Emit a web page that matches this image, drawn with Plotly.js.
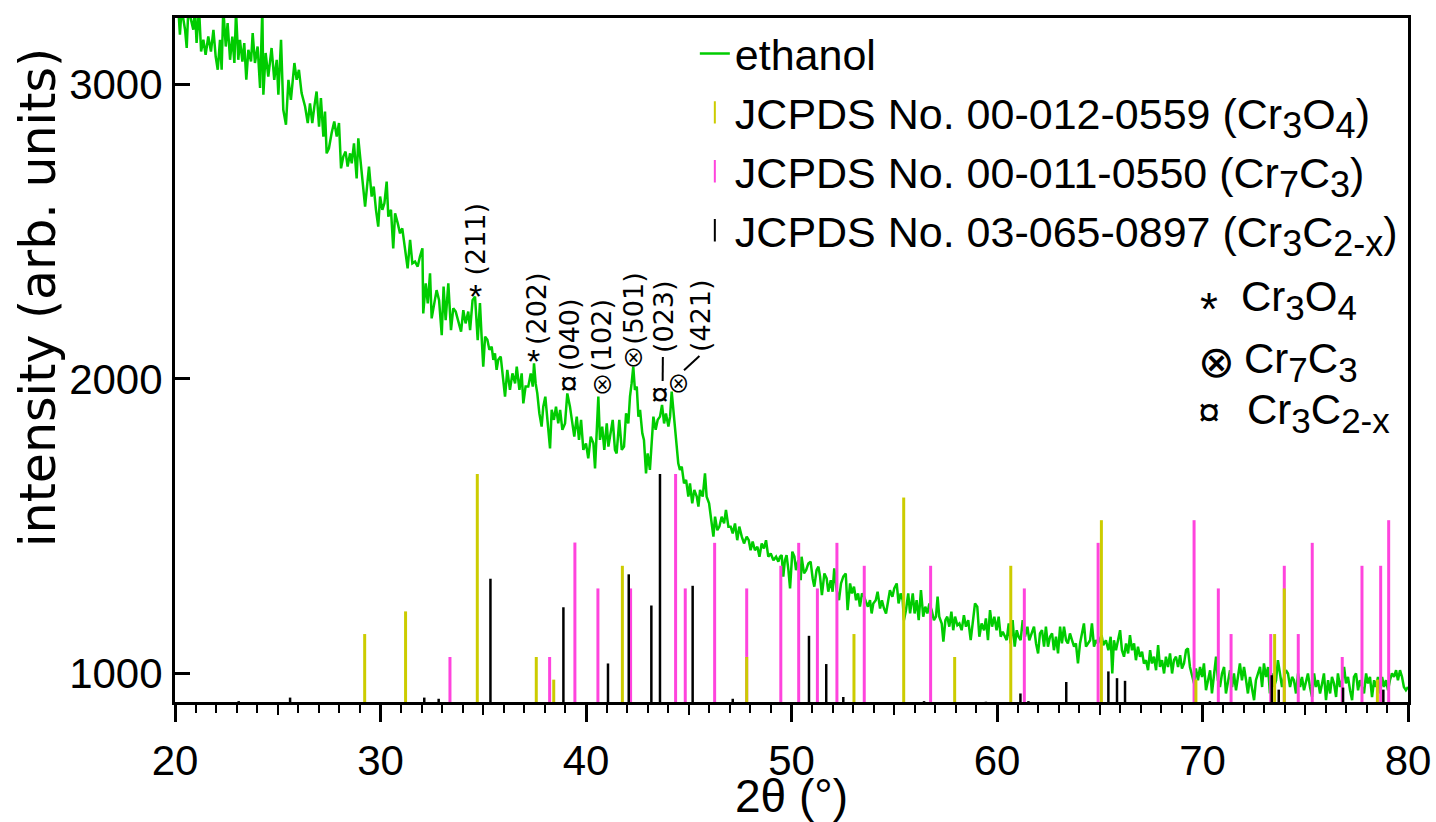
<!DOCTYPE html>
<html>
<head>
<meta charset="utf-8">
<script src="https://cdn.plot.ly/plotly-3.0.1.min.js"></script>
<style>html,body{margin:0;padding:0;background:#fff;}#chart{width:1436px;height:822px;}</style>
</head>
<body>
<div id="chart"></div>
<script>
// ---------- data ----------
const twoTheta = [
20.00,20.16,20.24,20.32,20.49,20.57,20.65,20.81,20.89,20.97,21.05,21.17,21.27,21.38,21.49,21.62,21.75,21.87,21.98,22.08,
22.19,22.27,22.35,22.47,22.56,22.68,22.79,22.89,22.97,23.08,23.16,23.28,23.37,23.47,23.57,23.70,23.78,23.89,24.02,24.14,
24.25,24.30,24.41,24.54,24.70,24.83,24.95,25.03,25.16,25.27,25.40,25.52,25.64,25.81,25.92,26.03,26.16,26.33,26.46,26.57,
26.68,26.78,26.89,27.01,27.10,27.22,27.30,27.38,27.49,27.62,27.75,27.87,27.98,28.08,28.19,28.30,28.40,28.52,28.60,28.71,
28.84,28.92,29.03,29.13,29.25,29.36,29.44,29.57,29.67,29.78,29.89,29.98,30.09,30.19,30.30,30.38,30.51,30.62,30.71,30.84,
30.95,31.06,31.19,31.32,31.44,31.55,31.68,31.81,31.92,32.04,32.08,32.20,32.30,32.41,32.49,32.62,32.73,32.85,32.98,33.07,
33.17,33.30,33.43,33.54,33.66,33.79,33.92,34.03,34.14,34.27,34.36,34.48,34.60,34.73,34.84,
34.92,35.00,35.09,35.20,35.30,35.41,35.49,35.57,35.65,35.73,35.85,35.95,36.06,36.17,36.30,36.42,36.55,36.63,36.76,36.87,
36.95,37.06,37.19,37.31,37.41,37.47,37.55,37.63,37.73,37.84,37.92,38.02,38.13,38.25,38.33,38.44,38.54,38.65,38.74,38.85,
38.98,39.09,39.22,39.33,39.43,39.55,39.66,39.76,39.87,40.00,40.11,40.23,40.36,40.44,40.52,40.60,40.68,40.79,40.89,41.01,
41.09,41.20,41.30,41.41,41.49,41.62,41.74,41.85,41.95,42.06,42.14,42.22,42.30,42.38,42.47,42.55,42.63,42.74,42.82,42.92,
43.00,43.11,43.20,43.28,43.39,43.49,43.60,43.70,43.80,43.89,44.01,44.09,44.17,44.25,44.33,44.41,44.49,44.57,44.66,44.77,
44.87,44.98,45.06,45.17,45.27,45.39,45.47,45.55,45.68,45.79,45.87,45.99,46.07,46.20,46.28,46.39,46.49,46.60,46.72,46.81,
46.93,47.04,47.14,47.25,47.36,47.46,47.58,47.69,47.82,47.92,48.01,48.11,48.22,48.34,48.44,48.55,48.66,48.76,48.87,48.99,
49.12,49.25,49.36,
49.44,49.52,49.60,49.68,49.76,49.85,49.93,50.04,50.14,50.22,50.33,50.45,50.49,50.61,50.71,50.82,50.93,51.03,51.11,51.22,
51.31,51.39,51.48,51.60,51.71,51.79,51.91,52.00,52.08,52.20,52.31,52.41,52.52,52.64,52.73,52.85,52.94,53.04,53.14,53.24,
53.33,53.43,53.53,53.62,53.72,53.82,53.90,53.98,54.10,54.19,54.31,54.40,54.50,54.60,54.70,54.79,54.91,55.00,55.12,55.21,
55.31,55.41,55.47,55.57,55.68,55.77,55.90,55.99,56.09,56.19,56.30,56.41,56.51,56.61,56.71,56.82,56.93,57.03,57.11,57.19,
57.31,57.39,57.49,57.58,57.68,57.78,57.87,57.96,58.07,58.17,58.28,58.39,58.49,58.60,58.72,58.82,58.93,59.04,59.14,59.25,
59.37,59.46,59.56,59.66,59.76,59.87,59.98,60.08,60.18,60.28,60.39,60.47,60.57,60.66,60.76,60.86,60.96,61.05,61.15,61.25,
61.36,61.48,61.57,61.69,61.80,61.90,62.00,62.09,62.19,62.29,62.38,62.48,62.58,62.68,62.77,62.87,62.97,63.07,63.16,63.26,
63.36,63.45,63.55,63.65,63.75,63.84,63.94,64.04,64.14,64.23,64.33,64.43,64.53,64.62,64.72,64.82,64.91,
64.98,65.09,65.17,65.30,65.42,65.53,65.61,65.69,65.79,65.89,65.99,66.08,66.18,66.28,66.38,66.47,66.57,66.67,66.76,66.86,
66.96,67.06,67.15,67.25,67.35,67.45,67.54,67.64,67.74,67.84,67.93,68.03,68.13,68.22,68.32,68.42,68.52,68.61,68.71,68.81,
68.91,69.00,69.10,69.20,69.29,69.39,69.49,69.59,69.68,69.78,69.88,69.98,70.07,70.17,70.27,70.37,70.46,70.56,70.66,70.75,
70.85,70.95,71.05,71.14,71.24,71.34,71.44,71.53,71.63,71.73,71.82,71.92,72.02,72.12,72.21,72.31,72.41,72.51,72.60,72.70,
72.80,72.90,72.99,73.09,73.19,73.28,73.38,73.48,73.58,73.67,73.77,73.87,73.97,74.06,74.16,74.26,74.36,74.45,74.55,74.65,
74.75,74.84,74.94,75.04,75.13,75.23,75.33,75.43,75.52,75.62,75.72,75.82,75.91,76.01,76.11,76.21,76.30,76.40,76.50,76.59,
76.69,76.79,76.89,76.98,77.08,77.18,77.28,77.37,77.47,77.57,77.66,77.76,77.86,77.96,78.05,78.15,78.25,78.35,78.44,78.54,
78.64,78.74,78.83,78.93,79.03,79.12,79.22,79.32,79.42,79.51,79.61,79.71,79.80,79.90,80.00
];
const ethanol = [
3260,3260,3170,3260,3187,3125,3260,3210,3187,3260,3142,3260,3113,3153,3102,3164,3113,3187,3096,3051,
3153,3051,3260,3130,3210,3085,3164,3074,3250,3085,3153,3079,3142,3017,3119,3079,3176,3074,3130,2989,
3260,2966,3108,3028,3125,3017,3085,2966,3153,2915,2864,3017,2949,3074,3017,3051,2972,2926,2870,2937,
2870,2926,2977,2858,2955,2824,2909,2767,2784,2835,2875,2824,2870,2716,2756,2773,2722,2767,2733,2801,
2682,2818,2733,2677,2586,2665,2722,2620,2654,2575,2518,2620,2575,2597,2671,2552,2575,2444,2563,2529,
2495,2512,2450,2376,2473,2393,2399,2382,2416,2444,2223,2325,2257,2359,2206,2257,2302,2268,2149,2314,
2200,2325,2166,2240,2229,2195,2161,2234,2189,2229,2166,2268,2280,2132,2258,
2144,2042,2144,2133,2099,2110,2065,2087,2031,2065,2076,2008,1940,2031,1963,2019,1985,2042,1963,2019,
1917,1974,1974,2019,1974,2053,1985,1951,1883,1838,1906,1940,1861,1764,1895,1861,1906,1849,1895,1827,
1849,1951,1906,1849,1804,1872,1793,1861,1759,1781,1730,1804,1781,1696,1838,1940,1793,1838,1759,1849,
1770,1815,1861,1759,1747,1861,1759,1770,1883,1849,1940,1985,2042,1963,1974,1872,1895,1815,1793,1679,
1747,1691,1781,1872,1827,1861,1872,1912,1849,1883,1838,1872,1957,1895,1861,1781,1713,1691,1702,1645,
1657,1600,1645,1577,1623,1600,1566,1623,1600,1679,1600,1577,1532,1464,1532,1486,1498,1532,1509,1555,
1498,1498,1475,1509,1452,1498,1464,1441,1464,1452,1418,1447,1418,1430,1396,1441,1424,1452,1396,1407,
1384,1396,1379,
1396,1401,1328,1384,1401,1350,1288,1413,1396,1350,1384,1316,1396,1339,1350,1373,1379,1322,1294,1350,
1362,1328,1265,1339,1322,1277,1316,1277,1356,1282,1248,1305,1328,1339,1214,1305,1271,1294,1248,1271,
1226,1271,1260,1243,1226,1248,1203,1237,1248,1277,1220,1248,1220,1203,1248,1282,1260,1288,1305,1237,
1271,1248,1180,1214,1271,1203,1271,1203,1248,1180,1282,1192,1226,1203,1237,1214,1180,1192,1260,1192,
1169,1107,1180,1192,1158,1209,1146,1192,1163,1169,1146,1197,1158,1180,1112,1180,1237,1226,1124,1169,
1146,1186,1112,1214,1158,1192,1146,1192,1124,1141,1124,1112,1169,1101,1180,1090,1146,1124,1112,1180,
1124,1158,1112,1135,1158,1101,1067,1135,1146,1090,1158,1090,1124,1135,1078,1124,1067,1158,1101,1158,
1112,1101,1135,1112,1090,1101,1033,1101,1135,1169,1090,1101,1112,1169,1090,1112,1101,
1112,1129,1095,1112,1078,1124,999,1112,1078,1112,1146,1078,1056,1101,1067,1129,1078,1101,1044,1090,
1056,1073,1033,1044,1010,1078,1033,1056,1010,1095,1021,1044,999,1056,1021,1067,999,1044,1056,1021,
1061,1016,1033,1078,1084,1021,987,965,1016,976,1021,987,1033,942,976,1010,931,999,1056,976,
953,999,1021,931,976,1010,953,999,942,987,1033,976,1021,976,931,987,953,908,976,999,
1021,953,1033,987,1021,931,999,953,976,1044,999,953,987,1010,999,953,987,976,931,999,
953,987,942,976,999,953,919,999,953,976,931,965,999,908,976,931,987,965,919,999,
953,976,1021,965,987,942,908,987,999,942,976,953,931,999,965,987,919,976,953,987,
931,987,953,976,942,976,999,987,1010,976,1010,987,953,942,953
];

// JCPDS reference lines (position, line top in intensity units)
const cr3o4Pos = [29.23,31.22,34.71,37.58,38.43,41.77,47.82,53.04,55.46,57.94,60.67,65.08,69.68,73.51,73.98,78.51];
const cr3o4Top = [1133,1210,1677,1055,978,1365,1055,1133,1597,1055,1365,1520,978,1133,1288,978];

const cr7c3Pos = [33.38,38.23,39.46,40.58,42.17,44.36,44.83,46.26,47.82,49.48,50.35,51.26,52.21,53.54,56.77,61.33,64.92,69.59,70.77,71.39,73.32,73.98,74.66,75.34,76.80,77.76,78.67,79.06];
const cr7c3Top = [1055,1055,1444,1288,1288,1677,1288,1443,1288,1365,1443,1288,1443,1365,1365,1288,1443,1520,1288,1133,1133,1365,1133,1443,1055,1365,1365,1520];

const cr3c2Pos = [23.10,25.60,32.13,32.83,35.35,38.90,41.07,42.08,43.18,43.60,45.19,47.14,50.85,51.69,52.52,56.45,59.46,61.14,61.53,63.37,65.42,65.84,66.23,70.36,73.37,73.71,76.84,78.80];
const cr3c2Top = [905,917,917,913,1321,1224,1033,1336,1230,1677,1297,913,1127,1031,919,905,903,931,905,970,1006,983,974,905,993,944,951,944];

// peak labels: [2θ, intensity, text]
const peakLabels = [
  [34.60, 2474, '(211)'], [37.60, 2240, '(202)'], [39.23, 2150, '(040)'], [40.77, 2150, '(102)'],
  [42.31, 2240, '(501)'], [43.77, 2212, '(023)'], [45.55, 2214, '(421)']
];
const peakSymbols = [
  [34.60, 2310, '*'], [37.44, 2089, '*'], [39.15, 1987, '¤'], [40.82, 1988, '⊗'],
  [42.31, 2079, '⊗'], [43.61, 1949, '¤'], [44.50, 1991, '⊗']
];
const legendNames = [
  'ethanol',
  'JCPDS No. 00-012-0559 (Cr<sub>3</sub>O<sub>4</sub>)',
  'JCPDS No. 00-011-0550 (Cr<sub>7</sub>C<sub>3</sub>)',
  'JCPDS No. 03-065-0897 (Cr<sub>3</sub>C<sub>2-x</sub>)'
];
const phaseSymbols = ['*', '⊗', '¤'];
const phaseNames = ['Cr<sub>3</sub>O<sub>4</sub>', 'Cr<sub>7</sub>C<sub>3</sub>', 'Cr<sub>3</sub>C<sub>2-x</sub>'];
const xTitle = '2θ (°)';
const yTitle = 'intensity (arb. units)';

const xRange = [20, 80];
const yRange = [902, 3227];
const COL = {green: 'rgb(0,204,0)', yellow: 'rgb(204,204,0)', magenta: 'rgb(255,68,221)', black: '#000'};
const FONT = 'Liberation Sans, Arial, DejaVu Sans, sans-serif';
const RFONT = 'DejaVu Sans, Liberation Sans, sans-serif';
const OFONT = 'Noto Sans CJK JP, DejaVu Sans, sans-serif';

// larger subscripts, like the reference
function bigSub(s, px) {
  return s.replace(/<sub>(.*?)<\/sub>/g, '<sub><span style="font-size:' + px + 'px">$1</span></sub>');
}

function sticks(pos, top) {
  const x = [], y = [];
  for (let i = 0; i < pos.length; i++) { x.push(pos[i], pos[i], null); y.push(yRange[0], top[i], null); }
  return {x, y};
}
const sY = sticks(cr3o4Pos, cr3o4Top), sM = sticks(cr7c3Pos, cr7c3Top), sK = sticks(cr3c2Pos, cr3c2Top);

const traces = [
  {x: twoTheta, y: ethanol, type: 'scatter', mode: 'lines', name: legendNames[0],
   line: {color: COL.green, width: 2.5}, legendrank: 1},
  {x: sM.x, y: sM.y, type: 'scatter', mode: 'lines', line: {color: COL.magenta, width: 3}, showlegend: false, hoverinfo: 'skip'},
  {x: sY.x, y: sY.y, type: 'scatter', mode: 'lines', line: {color: COL.yellow, width: 3}, showlegend: false, hoverinfo: 'skip'},
  {x: sK.x, y: sK.y, type: 'scatter', mode: 'lines', line: {color: COL.black, width: 2.5}, showlegend: false, hoverinfo: 'skip', xaxis: 'x2'},
  {x: [null], y: [null], type: 'scatter', mode: 'markers', name: bigSub(legendNames[1], 36), legendrank: 2,
   marker: {symbol: 'line-ns', size: 26, line: {color: COL.yellow, width: 2}}},
  {x: [null], y: [null], type: 'scatter', mode: 'markers', name: bigSub(legendNames[2], 36), legendrank: 3,
   marker: {symbol: 'line-ns', size: 26, line: {color: COL.magenta, width: 2}}},
  {x: [null], y: [null], type: 'scatter', mode: 'markers', name: bigSub(legendNames[3], 36), legendrank: 4,
   marker: {symbol: 'line-ns', size: 26, line: {color: COL.black, width: 2}}}
];

function symFont(s, size, fam) {
  return {family: s === '⊗' ? (fam || OFONT) : FONT, size: size, color: '#000'};
}
const annotations = [];
peakLabels.forEach(p => annotations.push({x: p[0], y: p[1], xref: 'x', yref: 'y', text: p[2], showarrow: false,
  textangle: -90, xanchor: 'center', yanchor: 'middle', font: {family: RFONT, size: 27, color: '#000'}}));
peakSymbols.forEach(p => {
  const size = p[2] === '*' ? 34 : (p[2] === '¤' ? 32 : 23);
  annotations.push({x: p[0], y: p[1], xref: 'x', yref: 'y', text: p[2], showarrow: false,
    xanchor: 'center', yanchor: 'middle', yshift: p[2] === '*' ? -0.23 * size : 0, font: symFont(p[2], size)});
});
// phase key on the right
const symX = [0.8388, 0.8445, 0.8388], symY = [0.5906, 0.4971, 0.424];
const nameX = [0.8626, 0.8656, 0.8676], nameY = [0.5878, 0.4974, 0.4229];
phaseSymbols.forEach((s, i) => {
  const size = s === '*' ? 46 : (s === '⊗' ? 44 : 40);
  annotations.push({x: symX[i], y: symY[i], xref: 'paper', yref: 'paper', text: s, showarrow: false,
    xanchor: 'center', yanchor: 'middle', yshift: s === '*' ? -0.23 * size : 0, font: symFont(s, size, RFONT)});
  annotations.push({x: nameX[i], y: nameY[i], xref: 'paper', yref: 'paper', text: bigSub(phaseNames[i], 35), showarrow: false,
    xanchor: 'left', yanchor: 'middle', font: {family: FONT, size: 42, color: '#000'}});
});
// y-axis title (placed like the reference, off-centre)
annotations.push({x: -0.1111, y: 0.5906, xref: 'paper', yref: 'paper', text: yTitle, showarrow: false,
  textangle: -90, xanchor: 'center', yanchor: 'middle', font: {family: RFONT, size: 49, color: '#000'}});

const shapes = [
  {type: 'line', xref: 'x', yref: 'y', x0: 43.73, y0: 1993, x1: 43.74, y1: 2075, line: {color: '#000', width: 2}},
  {type: 'line', xref: 'x', yref: 'y', x0: 44.77, y0: 2030, x1: 45.52, y1: 2078, line: {color: '#000', width: 2}}
];

const layout = {
  width: 1436, height: 822,
  margin: {l: 175, r: 28, t: 18, b: 120, pad: 0},
  paper_bgcolor: '#fff', plot_bgcolor: '#fff',
  font: {family: FONT, size: 42, color: '#000'},
  showlegend: true,
  legend: {x: 0.4216, y: 0.9985, xanchor: 'left', yanchor: 'top', bgcolor: 'rgba(0,0,0,0)', borderwidth: 0,
    font: {family: FONT, size: 43, color: '#000'}, itemwidth: 30, tracegroupgap: 0},
  xaxis: {range: xRange, tick0: 0, dtick: 10, ticks: 'outside', ticklen: 17, tickwidth: 3, tickcolor: '#000',
    minor: {dtick: 1, ticks: 'outside', ticklen: 8, tickwidth: 2, tickcolor: '#000'},
    showline: true, linewidth: 3, linecolor: '#000', mirror: true, showgrid: false, zeroline: false,
    tickfont: {family: FONT, size: 42}, ticklabelstandoff: 3,
    title: {text: xTitle, font: {family: FONT, size: 46}, standoff: 6}},
  xaxis2: {range: xRange, overlaying: 'x', anchor: 'y', side: 'bottom', tick0: 0, dtick: 5, ticks: 'outside', ticklen: 12,
    tickwidth: 2, tickcolor: '#000', showticklabels: false, showline: false, showgrid: false, zeroline: false},
  yaxis: {range: yRange, tickvals: [1000, 2000, 3000], ticks: 'inside', ticklen: 15, tickwidth: 3, tickcolor: '#000',
    showline: true, linewidth: 3, linecolor: '#000', mirror: true, showgrid: false, zeroline: false,
    tickfont: {family: FONT, size: 42}, ticklabelstandoff: 1},
  annotations: annotations,
  shapes: shapes
};

Plotly.newPlot('chart', traces, layout, {displayModeBar: false, staticPlot: true});
</script>
</body>
</html>
